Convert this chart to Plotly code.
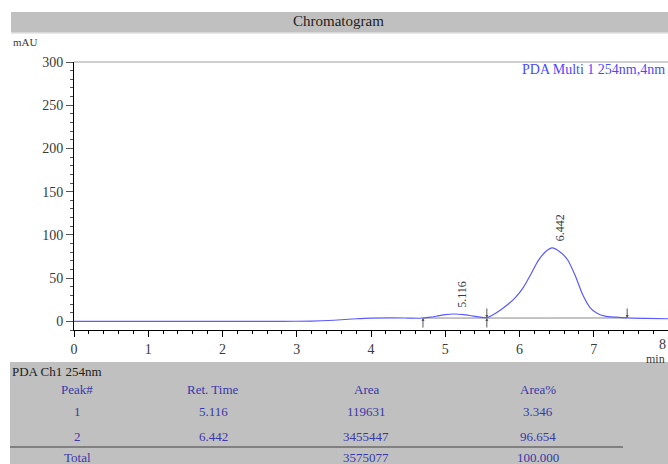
import plotly.graph_objects as go

# ---- data ----
time_min = [0.0, 1.0, 2.0, 2.8, 3.2, 3.5, 3.8, 4.0, 4.3, 4.5, 4.65, 4.8, 4.9, 5.0, 5.12,
            5.25, 5.35, 5.45, 5.56, 5.65, 5.75, 5.85, 5.95, 6.05, 6.15, 6.25, 6.35, 6.44,
            6.55, 6.65, 6.75, 6.85, 6.95, 7.05, 7.15, 7.3, 7.45, 7.7, 8.0]
signal_mau = [0, 0, 0, 0, 0.3, 1.3, 3.0, 3.8, 4.1, 3.8, 3.6, 4.8, 6.3, 7.8, 8.5,
              7.8, 6.5, 5.2, 4.2, 8, 13.5, 20, 28, 39, 54, 70, 80.5, 85,
              80, 71, 53, 31, 16, 9, 6, 4.8, 4.0, 3.5, 3.0]

baseline_t = [4.70, 5.56, 7.45]
baseline_v = [3.8, 3.9, 3.9]

peak_rt = [5.116, 6.442]
peak_height = [8.5, 85]
peak_labels = ["5.116", "6.442"]

table_title = "PDA Ch1 254nm"
table_headers = ["Peak#", "Ret. Time", "Area", "Area%"]
table_rows = [["1", "5.116", "119631", "3.346"],
              ["2", "6.442", "3455447", "96.654"]]
table_total = ["Total", "", "3575077", "100.000"]

x_ticks = [0, 1, 2, 3, 4, 5, 6, 7, 8]
y_ticks = [0, 50, 100, 150, 200, 250, 300]

# ---- layout geometry (pixels) ----
W, H = 668, 464
ML, MR, MT, MB = 74, 0, 62, 134
PW, PH = W - ML - MR, H - MT - MB
PB = H - MB


def px(x):
    return (x - ML) / PW


def py(y):
    return (PB - y) / PH


FONT = "Liberation Serif"
TXT = "#3a3a3a"
TBL = "#3838a8"

fig = go.Figure()
fig.add_trace(go.Scatter(x=baseline_t, y=baseline_v, mode="lines",
                         line=dict(color="#8a8a8a", width=1), hoverinfo="skip"))
fig.add_trace(go.Scatter(x=time_min, y=signal_mau, mode="lines",
                         line=dict(color="#5a5aff", width=1.2, shape="spline", smoothing=0.6)))

shapes = []
# title bar
shapes.append(dict(type="rect", xref="paper", yref="paper", x0=px(11), x1=px(668),
                   y0=py(33), y1=py(12), fillcolor="#c0c0c0", line=dict(width=0), layer="below"))
shapes.append(dict(type="line", xref="paper", yref="paper", x0=px(11), x1=px(668),
                   y0=py(33), y1=py(33), line=dict(color="#e0e0e0", width=1.5)))
# top frame line
shapes.append(dict(type="line", xref="paper", yref="paper", x0=0, x1=1, y0=1, y1=1,
                   line=dict(color="#a0a0a0", width=1)))
# table background
shapes.append(dict(type="rect", xref="paper", yref="paper", x0=px(10), x1=px(668),
                   y0=py(464), y1=py(362), fillcolor="#c0c0c0", line=dict(width=0), layer="below"))
shapes.append(dict(type="line", xref="paper", yref="paper", x0=px(10), x1=px(623),
                   y0=py(447), y1=py(447), line=dict(color="#808080", width=2)))

ann = []
ann.append(dict(text="Chromatogram", xref="paper", yref="paper", x=px(338), y=py(21),
                showarrow=False, font=dict(family=FONT, size=15, color="#202020"),
                xanchor="center", yanchor="middle"))
ann.append(dict(text="mAU", xref="paper", yref="paper", x=px(11), y=py(42),
                showarrow=False, font=dict(family=FONT, size=11, color=TXT),
                xanchor="left", yanchor="middle"))
ann.append(dict(text="min", xref="paper", yref="paper", x=px(667), y=py(359),
                showarrow=False, font=dict(family=FONT, size=12, color=TXT),
                xanchor="right", yanchor="middle"))
ann.append(dict(text="8", xref="paper", yref="paper", x=px(668), y=py(344),
                showarrow=False, font=dict(family=FONT, size=14, color=TXT),
                xanchor="right", yanchor="middle"))
ann.append(dict(text="PDA Multi 1 254nm,4nm", xref="paper", yref="paper", x=px(667), y=py(69),
                showarrow=False, font=dict(family=FONT, size=14, color="#4a4aff"),
                xanchor="right", yanchor="middle"))

# peak labels
for rt, h, lab in zip(peak_rt, peak_height, peak_labels):
    ann.append(dict(text=lab, x=rt, y=h, xref="x", yref="y", showarrow=False,
                    textangle=-90, xshift=8, yshift=20, xanchor="center", yanchor="middle",
                    font=dict(family=FONT, size=12, color=TXT)))

# integration markers
arrow_style = dict(showarrow=True, arrowhead=2, arrowsize=0.6, arrowwidth=1,
                   arrowcolor="#555555", text="", xref="x", yref="y", axref="pixel", ayref="pixel")
ann.append(dict(x=baseline_t[0], y=baseline_v[0], ax=0, ay=11, **arrow_style))
ann.append(dict(x=baseline_t[1], y=baseline_v[1], ax=0, ay=11, **arrow_style))
ann.append(dict(x=baseline_t[1], y=baseline_v[1], ax=0, ay=-11, **arrow_style))
ann.append(dict(x=baseline_t[2], y=baseline_v[2], ax=0, ay=-11, **arrow_style))

# table text
ann.append(dict(text=table_title, xref="paper", yref="paper", x=px(10), y=py(371),
                showarrow=False, font=dict(family=FONT, size=13, color="#202020"),
                xanchor="left", yanchor="middle"))
col_x = [77, 213, 366, 538]
row_y = [389, 411, 436]
all_rows = [table_headers] + table_rows
for r, row in enumerate(all_rows):
    for c, val in enumerate(row):
        ann.append(dict(text=val, xref="paper", yref="paper", x=px(col_x[c]), y=py(row_y[r]),
                        showarrow=False, font=dict(family=FONT, size=13, color=TBL),
                        xanchor="center", yanchor="middle"))
for c, val in enumerate(table_total):
    if val:
        ann.append(dict(text=val, xref="paper", yref="paper", x=px(col_x[c]), y=py(457),
                        showarrow=False, font=dict(family=FONT, size=13, color=TBL),
                        xanchor="center", yanchor="middle"))

fig.update_layout(
    width=W, height=H, margin=dict(l=ML, r=MR, t=MT, b=MB, pad=0),
    paper_bgcolor="white", plot_bgcolor="white", showlegend=False,
    shapes=shapes, annotations=ann,
    xaxis=dict(range=[0, 8], tickvals=x_ticks, ticktext=[str(v) for v in x_ticks],
               showgrid=False, zeroline=False, showline=True, linecolor="black", linewidth=1,
               ticks="outside", ticklen=6, tickcolor="black",
               minor=dict(dtick=0.2, ticks="outside", ticklen=3, tickcolor="black", showgrid=False),
               tickfont=dict(family=FONT, size=14, color=TXT)),
    yaxis=dict(range=[-10, 300], tickvals=y_ticks, ticktext=[str(v) for v in y_ticks],
               showgrid=False, zeroline=False, showline=True, linecolor="black", linewidth=1,
               ticks="outside", ticklen=7, tickcolor="#555555",
               minor=dict(dtick=10, ticks="outside", ticklen=3, tickcolor="#555555", showgrid=False),
               tickfont=dict(family=FONT, size=14, color=TXT)),
)

fig.write_html("out.html", config={"displayModeBar": False},
               post_script="document.body.style.margin='0px';document.body.style.overflow='hidden';")
